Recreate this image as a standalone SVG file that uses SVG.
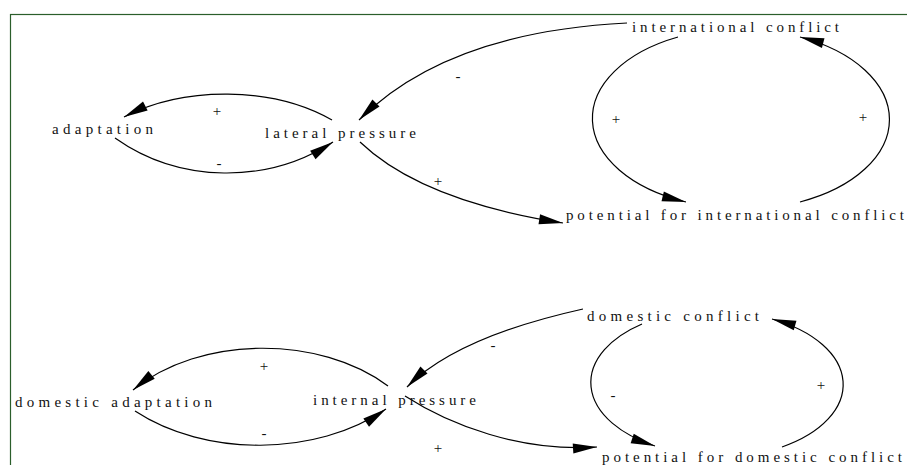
<svg xmlns="http://www.w3.org/2000/svg" width="907" height="465" viewBox="0 0 907 465">
<style>
.n{font-family:"Liberation Serif","Times New Roman",serif;font-size:15px;fill:#111;}
.p{font-family:"Liberation Serif","Times New Roman",serif;font-size:15px;fill:#111;text-anchor:middle;}
.c{fill:none;stroke:#000;stroke-width:1.2;marker-end:url(#ah);}
</style>
<defs>
<marker id="ah" markerUnits="userSpaceOnUse" markerWidth="26" markerHeight="12" refX="24" refY="5" orient="auto" overflow="visible"><path d="M0,0 L24,5 L0,10 z" fill="#000"/></marker>
</defs>
<rect x="10.5" y="14.5" width="1000" height="500" fill="#fff" stroke="#2b5e2b" stroke-width="1.2"/>
<g id="connectors">
<path class="c" d="M332,120 C272,86 184,86 124,117"/>
<path class="c" d="M115,138 C180,184 268,184 333,142"/>
<path class="c" d="M627,23 Q447,32 359,120"/>
<path class="c" d="M360,142 C405,185 480,210 563,223"/>
<path class="c" d="M678,37 A149,90 0 0 0 686,202"/>
<path class="c" d="M800,202 A149,90 0 0 0 800,37"/>
<path class="c" d="M388,386 C320,335 200,335 133,390"/>
<path class="c" d="M135,411 C205,457 316,457 386,409"/>
<path class="c" d="M583,309 Q457,337 407,387"/>
<path class="c" d="M405,396 C450,425 520,452 597,447"/>
<path class="c" d="M642,324 A127,73 0 0 0 655,446"/>
<path class="c" d="M782,447 A127,73 0 0 0 772,319"/>
<text class="p" x="217" y="116">+</text>
<text class="p" x="219" y="168">-</text>
<text class="p" x="458" y="81">-</text>
<text class="p" x="438" y="186">+</text>
<text class="p" x="616" y="124">+</text>
<text class="p" x="863" y="122">+</text>
<text class="p" x="264" y="371">+</text>
<text class="p" x="264" y="438">-</text>
<text class="p" x="493" y="350">-</text>
<text class="p" x="438" y="453">+</text>
<text class="p" x="613" y="400">-</text>
<text class="p" x="821" y="390">+</text>
</g>
<g id="adaptation"><text class="n" x="52" y="134" textLength="101" lengthAdjust="spacing">adaptation</text></g>
<g id="lateral-pressure"><text class="n" x="265" y="138" textLength="151" lengthAdjust="spacing">lateral pressure</text></g>
<g id="international-conflict"><text class="n" x="632" y="32" textLength="207" lengthAdjust="spacing">international conflict</text></g>
<g id="potential-international-conflict"><text class="n" x="566" y="220" textLength="338" lengthAdjust="spacing">potential for international conflict</text></g>
<g id="domestic-adaptation"><text class="n" x="15" y="407" textLength="197" lengthAdjust="spacing">domestic adaptation</text></g>
<g id="internal-pressure"><text class="n" x="313" y="405" textLength="163" lengthAdjust="spacing">internal pressure</text></g>
<g id="domestic-conflict"><text class="n" x="587" y="321" textLength="172" lengthAdjust="spacing">domestic conflict</text></g>
<g id="potential-domestic-conflict"><text class="n" x="602" y="462" textLength="300" lengthAdjust="spacing">potential for domestic conflict</text></g>
</svg>
